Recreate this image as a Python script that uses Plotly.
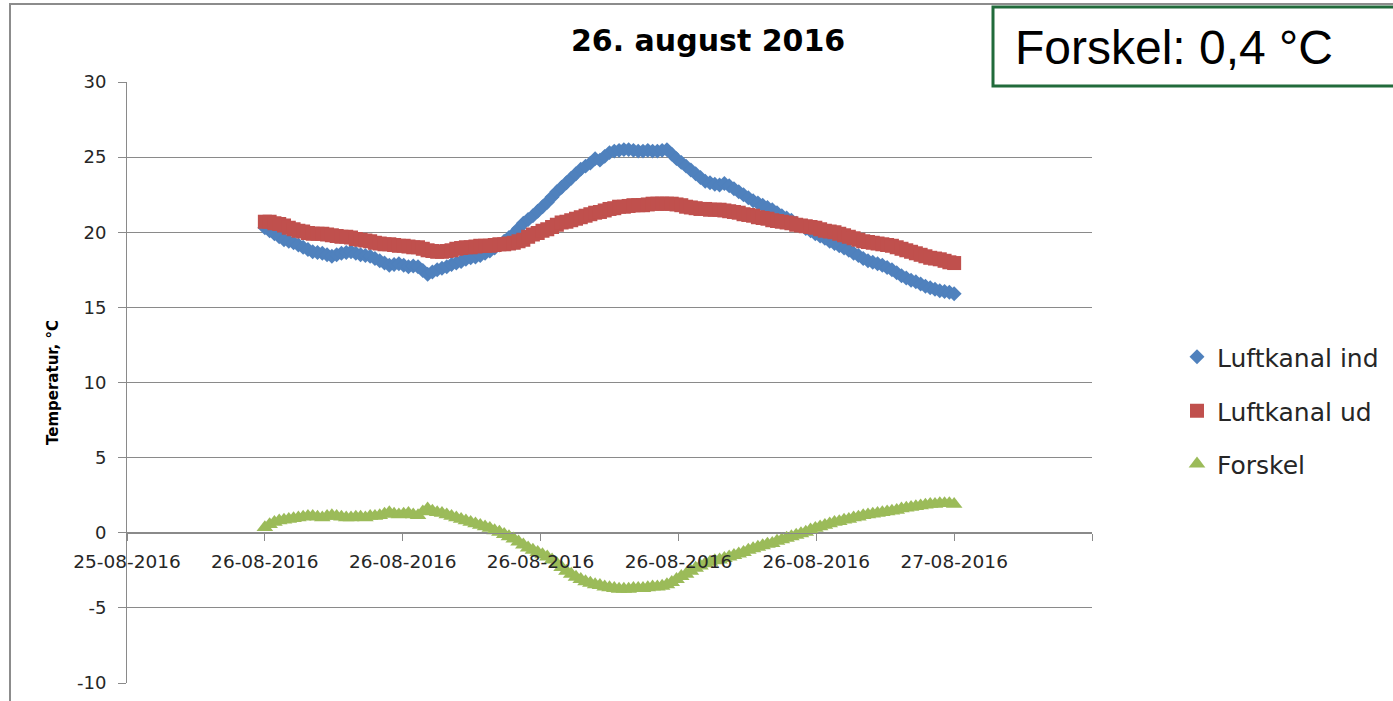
import pandas as pd
import plotly.graph_objects as go

# ---- data (10-minute readings, 26-08-2016 00:00 -> 27-08-2016 00:00) ----
times = pd.date_range("2016-08-26 00:00", "2016-08-27 00:00", freq="10min")

luftkanal_ind = [
    20.3, 20.1, 19.9, 19.7, 19.5, 19.4, 19.3, 19.15, 19.0, 18.85,
    18.7, 18.65, 18.6, 18.5, 18.4, 18.5, 18.6, 18.65, 18.7, 18.6,
    18.5, 18.45, 18.4, 18.25, 18.1, 17.95, 17.8, 17.85, 17.9, 17.8,
    17.7, 17.75, 17.7, 17.45, 17.2, 17.35, 17.5, 17.6, 17.7, 17.85,
    17.95, 18.05, 18.2, 18.3, 18.35, 18.45, 18.6, 18.75, 18.95, 19.15,
    19.4, 19.65, 19.9, 20.25, 20.6, 20.85, 21.1, 21.4, 21.7, 22.0,
    22.35, 22.7, 23.0, 23.3, 23.6, 23.9, 24.2, 24.4, 24.6, 24.9,
    24.8, 25.05, 25.3, 25.4, 25.45, 25.5, 25.5, 25.45, 25.4, 25.4,
    25.45, 25.4, 25.4, 25.45, 25.5, 25.2, 24.9, 24.65, 24.4, 24.15,
    23.9, 23.65, 23.4, 23.3, 23.2, 23.15, 23.25, 23.1, 22.9, 22.7,
    22.5, 22.3, 22.1, 21.95, 21.8, 21.65, 21.5, 21.3, 21.1, 20.95,
    20.8, 20.6, 20.45, 20.25, 20.1, 19.9, 19.75, 19.6, 19.4, 19.25,
    19.1, 18.95, 18.8, 18.6, 18.45, 18.25, 18.1, 18.0, 17.9, 17.8,
    17.65, 17.5, 17.3, 17.1, 16.95, 16.8, 16.7, 16.55, 16.4, 16.3,
    16.2, 16.1, 16.05, 16.0, 15.9,
]

luftkanal_ud = [
    20.7, 20.7, 20.6, 20.55, 20.45, 20.3, 20.2, 20.1, 20.05, 19.95,
    19.9, 19.9, 19.9, 19.85, 19.8, 19.75, 19.7, 19.7, 19.65, 19.55,
    19.5, 19.45, 19.4, 19.3, 19.25, 19.2, 19.2, 19.15, 19.1, 19.1,
    19.05, 19.0, 19.0, 18.9, 18.8, 18.75, 18.7, 18.7, 18.75, 18.8,
    18.9, 18.95, 19.0, 19.0, 19.05, 19.1, 19.1, 19.1, 19.15, 19.2,
    19.2, 19.25, 19.3, 19.4, 19.5, 19.7, 19.85, 19.95, 20.1, 20.2,
    20.35, 20.5, 20.65, 20.7, 20.8, 20.9, 21.0, 21.1, 21.2, 21.3,
    21.35, 21.45, 21.55, 21.6, 21.7, 21.7, 21.75, 21.8, 21.8, 21.8,
    21.85, 21.9, 21.9, 21.9, 21.9, 21.9, 21.85, 21.8, 21.7, 21.65,
    21.6, 21.55, 21.55, 21.5, 21.5, 21.5, 21.45, 21.4, 21.35, 21.3,
    21.2, 21.15, 21.1, 21.0, 20.95, 20.9, 20.8, 20.75, 20.7, 20.65,
    20.6, 20.5, 20.45, 20.4, 20.35, 20.3, 20.2, 20.1, 20.05, 20.0,
    19.9, 19.8, 19.7, 19.6, 19.5, 19.4, 19.35, 19.3, 19.25, 19.2,
    19.15, 19.1, 19.0, 18.9, 18.8, 18.7, 18.6, 18.5, 18.4, 18.3,
    18.25, 18.2, 18.1, 18.0, 17.95,
]

forskel = [
    0.35, 0.55, 0.7, 0.8, 0.85, 0.9, 0.95, 1.0, 1.05, 1.1,
    1.1, 1.05, 1.0, 1.1, 1.15, 1.1, 1.05, 1.0, 1.0, 1.05,
    1.05, 1.0, 1.1, 1.1, 1.15, 1.25, 1.35, 1.25, 1.2, 1.25,
    1.3, 1.2, 1.15, 1.4, 1.6, 1.45, 1.35, 1.3, 1.2, 1.1,
    1.0, 0.9, 0.8, 0.7, 0.6, 0.5, 0.4, 0.3, 0.15, 0.05,
    -0.1, -0.25, -0.4, -0.6, -0.8, -1.0, -1.15, -1.3, -1.45, -1.6,
    -1.8, -2.05, -2.3, -2.55, -2.75, -2.95, -3.1, -3.25, -3.35, -3.45,
    -3.5, -3.6, -3.65, -3.7, -3.75, -3.75, -3.75, -3.7, -3.7, -3.7,
    -3.65, -3.6, -3.6, -3.55, -3.45, -3.3, -3.1, -2.9, -2.75, -2.55,
    -2.35, -2.2, -2.05, -1.95, -1.85, -1.8, -1.7, -1.6, -1.5, -1.4,
    -1.3, -1.15, -1.05, -0.95, -0.85, -0.75, -0.7, -0.55, -0.45, -0.35,
    -0.25, -0.15, -0.05, 0.05, 0.2, 0.3, 0.4, 0.5, 0.6, 0.7,
    0.75, 0.85, 0.9, 1.0, 1.05, 1.15, 1.2, 1.25, 1.3, 1.35,
    1.4, 1.45, 1.5, 1.6, 1.65, 1.7, 1.75, 1.8, 1.85, 1.9,
    1.9, 1.95, 1.95, 1.95, 1.9,
]

x_tick_vals = pd.date_range("2016-08-25 19:12", periods=8, freq="288min")
x_tick_text = ["25-08-2016", "26-08-2016", "26-08-2016", "26-08-2016",
               "26-08-2016", "26-08-2016", "27-08-2016", ""]
x_range = ["2016-08-25 19:12", "2016-08-27 04:48"]

y_tick_vals = [-10, -5, 0, 5, 10, 15, 20, 25, 30]
y_tick_text = ["-10", "-5", "0", "5", "10", "15", "20", "25", "30"]

title_text = "26. august 2016"
y_title = "Temperatur, °C"
box_text = "Forskel: 0,4 °C"

# ---- figure ----
W, H = 1393, 701
L, R, T, B = 127, 1092, 82, 683   # plot area in pixels


def px(x):
    return (x - L) / (R - L)


def py(y):
    return (B - y) / (B - T)


GRID = "#8a8a8a"
TXT = "#262626"
FONT = "DejaVu Sans"

fig = go.Figure()
fig.add_trace(go.Scatter(
    x=times, y=luftkanal_ind, mode="markers", name="Luftkanal ind",
    marker=dict(symbol="diamond", size=11.5, color="#4f81bd"), legend="legend"))
fig.add_trace(go.Scatter(
    x=times, y=luftkanal_ud, mode="markers", name="Luftkanal ud",
    marker=dict(symbol="square", size=14, color="#c0504d"), legend="legend2"))
fig.add_trace(go.Scatter(
    x=times, y=forskel, mode="markers", name="Forskel",
    marker=dict(symbol="triangle-up", size=14.5, color="#9bbb59"), legend="legend3"))

leg_common = dict(font=dict(family=FONT, size=25, color=TXT), bgcolor="rgba(0,0,0,0)",
                  xanchor="left", yanchor="middle", itemsizing="trace",
                  xref="container", yref="container")

fig.update_layout(
    width=W, height=H,
    margin=dict(l=L, r=W - R, t=T, b=H - B, autoexpand=False),
    paper_bgcolor="white", plot_bgcolor="white",
    showlegend=True,
    legend=dict(x=1177 / W, y=1 - 357 / H, **leg_common),
    legend2=dict(x=1177 / W, y=1 - 411 / H, **leg_common),
    legend3=dict(x=1177 / W, y=1 - 464 / H, **leg_common),
    xaxis=dict(
        type="date", range=x_range, tickmode="array",
        tickvals=x_tick_vals, ticktext=x_tick_text,
        anchor="free", position=0.25, automargin=False,
        showgrid=False, zeroline=False,
        showline=True, linecolor=GRID, linewidth=1,
        ticks="outside", ticklen=7, tickcolor=GRID,
        ticklabelstandoff=5,
        tickfont=dict(family=FONT, size=18.5, color=TXT),
    ),
    yaxis=dict(
        range=[-10, 30], tickmode="array", automargin=False,
        tickvals=y_tick_vals, ticktext=y_tick_text,
        showgrid=True, gridcolor=GRID, gridwidth=1, zeroline=False,
        showline=True, linecolor=GRID, linewidth=1,
        ticks="outside", ticklen=8, tickcolor=GRID,
        ticklabelstandoff=8,
        tickfont=dict(family=FONT, size=18, color=TXT),
    ),
    shapes=[
        # outer chart border
        dict(type="rect", xref="paper", yref="paper",
             x0=px(10), x1=px(1405), y0=py(712), y1=py(4),
             line=dict(color="#8c8c8c", width=2), fillcolor="rgba(0,0,0,0)",
             layer="above"),
        # Forskel box
        dict(type="rect", xref="paper", yref="paper",
             x0=px(993), x1=px(1405), y0=py(86), y1=py(7),
             line=dict(color="#216b3b", width=3), fillcolor="white",
             layer="above"),
    ],
    annotations=[
        dict(text="<b>%s</b>" % title_text, xref="paper", yref="paper",
             x=px(708), y=py(40), xanchor="center", yanchor="middle",
             showarrow=False, font=dict(family=FONT, size=30, color="black")),
        dict(text="<b>%s</b>" % y_title, xref="paper", yref="paper",
             x=px(53), y=py(383), xanchor="center", yanchor="middle",
             textangle=-90, showarrow=False,
             font=dict(family=FONT, size=15, color="black")),
        dict(text=box_text, xref="paper", yref="paper",
             x=px(1013), y=py(47), xanchor="left", yanchor="middle",
             showarrow=False, font=dict(family="Liberation Sans", size=48, color="black")),
    ],
)

fig.write_html(
    "out.html", config={"displayModeBar": False},
    post_script=(
        "document.documentElement.style.overflow='hidden';"
        "document.body.style.margin='0px';"
        "document.body.style.overflow='hidden';"
    ),
)
